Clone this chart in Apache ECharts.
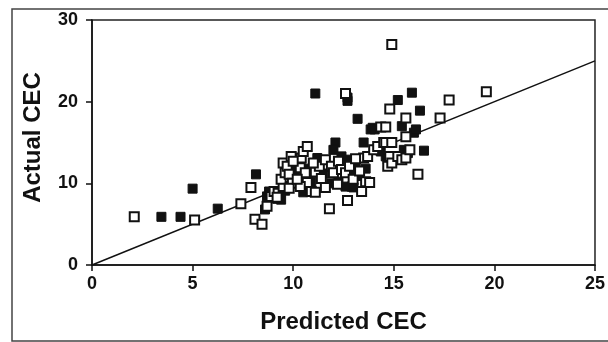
<!DOCTYPE html>
<html>
<head>
<meta charset="utf-8">
<script src="https://cdn.jsdelivr.net/npm/echarts@6/dist/echarts.min.js"></script>
<style>
html,body{margin:0;padding:0;background:#fff;}
#c{width:608px;height:342px;}
</style>
</head>
<body>
<div id="c"></div>
<script>
// Open (hollow) squares
const openX = [2.1,5.1,7.4,7.9,8.1,8.45,8.9,9.05,9.25,9.5,9.4,9.6,9.5,9.7,9.8,9.96,9.8,9.9,10.4,10.5,10.7,10.35,10.6,10.7,10.35,10.9,11.1,11.1,11.3,11.6,11.6,11.8,11.9,12.0,12.25,12.4,12.6,12.8,12.98,13.3,13.5,13.7,13.4,13.6,13.8,12.7,12.6,14.0,14.2,14.5,14.6,14.8,14.7,14.9,15.2,15.4,15.6,15.8,14.9,14.35,14.6,14.8,15.6,15.6,16.2,17.3,17.75,19.6,14.9,8.7,9.2,10.2,11.4,12.2,13.1,10.0,11.0];
const openY = [5.9,5.5,7.5,9.5,5.6,5.0,8.4,9.0,8.8,9.6,10.5,11.3,12.5,12.1,11.1,10.0,9.4,13.3,13.1,13.9,14.5,11.9,11.3,10.1,9.6,9.0,8.9,11.4,12.1,12.9,9.5,6.9,12.1,11.3,12.7,11.7,11.3,12.1,10.5,11.5,13.1,13.3,9.0,10.2,10.1,7.9,21.0,14.1,14.5,15.0,15.0,13.3,12.1,12.5,13.3,12.9,13.1,14.1,15.0,16.9,16.9,19.1,18.0,15.7,11.1,18.0,20.2,21.2,27.0,7.2,8.3,10.5,10.6,9.9,13.0,12.7,12.5];
// Filled squares
const filledX = [3.45,4.4,5.0,6.25,8.15,8.6,8.7,8.8,9.2,9.4,9.9,10.1,10.25,10.5,10.9,11.2,10.15,11.1,12.7,12.7,13.2,15.2,15.9,16.3,15.4,13.85,13.95,14.05,16.5,16.0,16.1,12.1,13.5,12.0,12.25,12.7,12.9,13.1,13.3,12.4,12.6,14.6,15.5,15.7,14.35,14.7,13.0,11.9,10.6,10.7,11.5,12.9,13.6,9.6];
const filledY = [5.9,5.9,9.35,6.9,11.1,6.8,8.4,9.0,8.1,8.0,12.9,10.9,10.2,8.9,10.2,13.1,12.1,21.0,20.1,20.5,17.9,20.2,21.1,18.9,17.0,16.6,16.8,16.6,14.0,16.2,16.6,15.0,15.0,14.1,10.2,12.9,9.6,12.3,10.9,13.3,9.6,13.3,14.1,13.7,13.9,12.9,9.5,10.0,9.5,11.8,11.2,11.4,11.8,9.1];
// 1:1 line
const lineX = [0, 25];
const lineY = [0, 25];
const xTicks = [0,5,10,15,20,25];
const yTicks = [0,10,20,30];

const zip = (a,b) => a.map((v,i)=>[v,b[i]]);
const chart = echarts.init(document.getElementById('c'), null, {renderer:'canvas'});
const tickFont = {fontFamily:'Liberation Sans, Arial, sans-serif', fontWeight:'bold', fontSize:18, color:'#111'};
chart.setOption({
  animation:false,
  backgroundColor:'#fff',
  grid:{left:92,right:6,top:20,bottom:77,show:true,borderColor:'#222',borderWidth:1.5},
  graphic:[{type:'rect',shape:{x:12,y:9,width:620,height:332},style:{fill:'none',stroke:'#444',lineWidth:1.5},silent:true}],
  xAxis:{type:'value',min:0,max:25,interval:5,
    name:'Predicted CEC',nameLocation:'middle',nameGap:45,
    nameTextStyle:{fontFamily:'Liberation Sans, Arial, sans-serif',fontSize:24,fontWeight:'bold',color:'#111'},
    axisLine:{lineStyle:{color:'#111',width:1.5}},
    axisTick:{show:true,length:6,lineStyle:{color:'#111',width:1.5}},
    axisLabel:Object.assign({margin:10,formatter:v=>xTicks.includes(v)?String(v):''},tickFont),
    splitLine:{show:false}},
  yAxis:{type:'value',min:0,max:30,interval:10,
    name:'Actual CEC',nameLocation:'middle',nameGap:47,
    nameTextStyle:{fontFamily:'Liberation Sans, Arial, sans-serif',fontSize:24,fontWeight:'bold',color:'#111',padding:[0,0,0,10]},
    axisLine:{show:true,lineStyle:{color:'#111',width:1.5}},
    axisTick:{show:true,length:6,lineStyle:{color:'#111',width:1.5}},
    axisLabel:Object.assign({margin:14,formatter:v=>yTicks.includes(v)?String(v):''},tickFont),
    splitLine:{show:false}},
  series:[
    {type:'line',data:zip(lineX,lineY),symbol:'none',lineStyle:{color:'#111',width:1.5},z:1},
    {type:'scatter',data:zip(openX,openY),symbol:'rect',symbolSize:9,
      itemStyle:{color:'#fff',borderColor:'#111',borderWidth:2,opacity:1},z:3},
    {type:'scatter',data:zip(filledX,filledY),symbol:'rect',symbolSize:9,
      itemStyle:{color:'#111',borderColor:'#111',borderWidth:1,opacity:1},z:2}
  ]
});
</script>
</body>
</html>
